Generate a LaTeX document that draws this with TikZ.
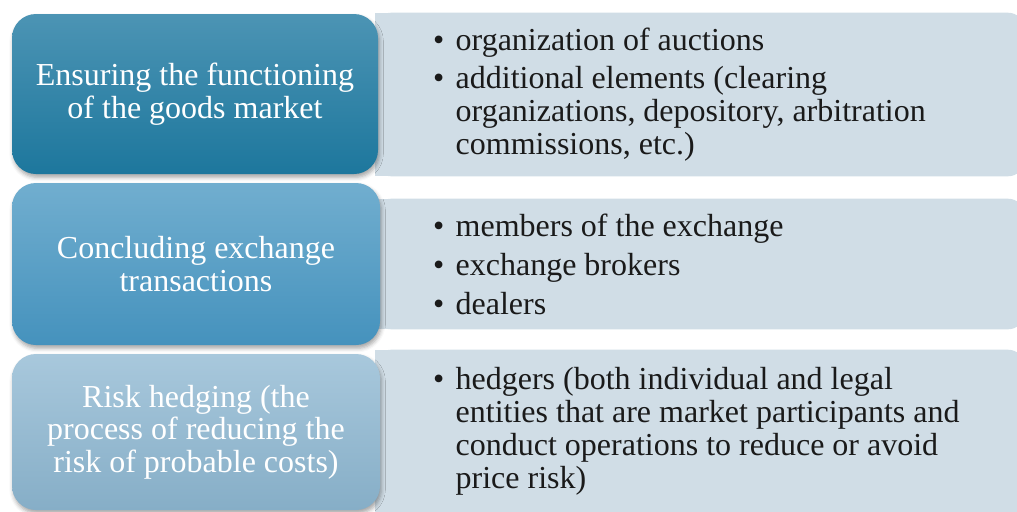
\documentclass[tikz,border=0pt]{standalone}
\usepackage{fontspec}
\setmainfont{Liberation Serif}
\usetikzlibrary{shadows.blur}
\definecolor{bOneTop}{HTML}{4C94B4}
\definecolor{bOneMid}{HTML}{2887AD}
\definecolor{bOneBot}{HTML}{1D779D}
\definecolor{bTwoTop}{HTML}{71AECF}
\definecolor{bTwoMid}{HTML}{5AA3C9}
\definecolor{bTwoBot}{HTML}{4592BD}
\definecolor{bThrTop}{HTML}{A8C8DC}
\definecolor{bThrMid}{HTML}{98BDD4}
\definecolor{bThrBot}{HTML}{86AEC7}
\definecolor{rbFill}{HTML}{D0DDE6}
\definecolor{rbText}{HTML}{1A1A1A}
\newcommand{\bul}{\makebox[17pt][l]{\textbullet}}
\newcommand{\ind}{\hspace*{17pt}}
\tikzset{
  leftbox/.style={rounded corners=18pt, minimum width=#1, inner sep=0pt, align=center,
    text=white, font=\fontsize{24}{24.5}\selectfont,
    blur shadow={shadow xshift=1pt, shadow yshift=-2.5pt, shadow blur radius=3pt, shadow opacity=35}},
  rightbox/.style={inner sep=0pt, minimum width=486.75pt},
  bullettext/.style={anchor=west, inner sep=0pt, align=left, text=rbText,
    font=\fontsize{24}{24.75}\selectfont},
}
\begin{document}
\begin{tikzpicture}[x=0.75pt, y=-0.75pt]
\useasboundingbox (0,0) rectangle (1017,511);
\clip (0,0) rectangle (1017,511);
% right boxes (behind)
\node[rightbox, minimum height=122.25pt] (r1) at (699.5,94.5) {};
\node[rightbox, minimum height=97.5pt] (r2) at (699.5,264) {};
\node[rightbox, minimum height=124.5pt] (r3) at (699.5,433) {};
\foreach \r in {r1,r2,r3}{
  \fill[rbFill, rounded corners=12pt] (\r.north west) rectangle (\r.south east);
  \fill[rbFill] (\r.north west) rectangle (\r.south);
}
% left boxes
\node[leftbox=274.5pt, minimum height=120pt, top color=bOneTop, middle color=bOneMid, bottom color=bOneBot] (l1) at (195,94)
  {Ensuring the functioning\\of the goods market};
\node[leftbox=276pt, minimum height=121.5pt, top color=bTwoTop, middle color=bTwoMid, bottom color=bTwoBot] (l2) at (196,264)
  {Concluding exchange\\transactions};
\node[leftbox=276pt, minimum height=117pt, top color=bThrTop, middle color=bThrMid, bottom color=bThrBot] (l3) at (196,432)
  {Risk hedging (the\\process of reducing the\\risk of probable costs)};
% bullet texts
\node[bullettext] (t1) at ([xshift=43.5pt]r1.west)
  {\bul organization of auctions\\[3.75pt]
   \bul additional elements (clearing\\
   \ind organizations, depository, arbitration\\
   \ind commissions, etc.)};
\node[bullettext] (t2) at ([xshift=43.5pt]r2.west)
  {\bul members of the exchange\\[4.5pt]
   \bul exchange brokers\\[4.5pt]
   \bul dealers};
\node[bullettext] (t3) at ([xshift=43.5pt, yshift=1pt]r3.west)
  {\bul hedgers (both individual and legal\\
   \ind entities that are market participants and\\
   \ind conduct operations to reduce or avoid\\
   \ind price risk)};
\end{tikzpicture}
\end{document}
